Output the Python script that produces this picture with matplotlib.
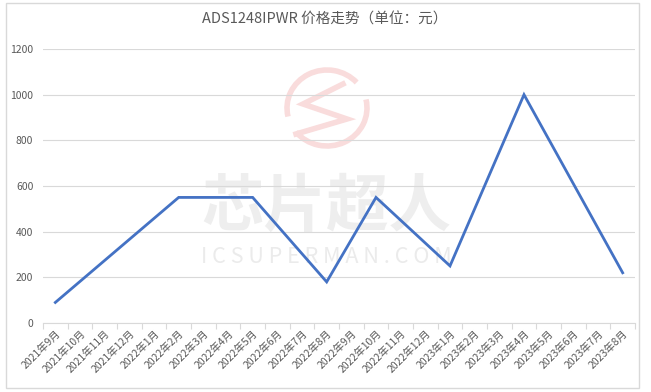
import matplotlib
matplotlib.use("Agg")
import matplotlib.pyplot as plt
import numpy as np
from matplotlib.patches import Arc
from matplotlib.lines import Line2D
from matplotlib.ticker import FixedLocator, NullFormatter

plt.rcParams['font.family'] = ['Noto Sans CJK SC', 'DejaVu Sans']

months = ["2021年9月", "2021年10月", "2021年11月", "2021年12月",
          "2022年1月", "2022年2月", "2022年3月", "2022年4月", "2022年5月",
          "2022年6月", "2022年7月", "2022年8月", "2022年9月", "2022年10月",
          "2022年11月", "2022年12月", "2023年1月", "2023年2月", "2023年3月",
          "2023年4月", "2023年5月", "2023年6月", "2023年7月", "2023年8月"]
prices = [90, None, None, None, None, 550, None, None, 550, None, None, 180,
          None, 550, None, None, 250, None, None, 1000, None, None, None, 220]
title = "ADS1248IPWR 价格走势（单位：元）"

W, H = 651, 392
fig = plt.figure(figsize=(W / 100, H / 100), dpi=100)
fig.patch.set_facecolor("white")

def fx(px):
    return px / W

def fy(py):
    return 1 - py / H

# outer frame
frame = plt.Rectangle((fx(6), fy(388)), (639 - 6) / W, (388 - 3) / H,
                      transform=fig.transFigure, fill=False,
                      edgecolor="#d9d9d9", linewidth=1.0, zorder=-1)
fig.add_artist(frame)

# watermark (behind the axes)
wm_col = "#f9dcdc"
for t1, t2 in [(55, 200), (232, 380)]:
    arc = Arc((fx(327), fy(108)), 80 / W, 76 / H, theta1=t1, theta2=t2,
              transform=fig.transFigure, edgecolor=wm_col, linewidth=4.0, zorder=-1)
    fig.add_artist(arc)
zig = Line2D([fx(343), fx(303), fx(347), fx(296)],
             [fy(84), fy(104), fy(119), fy(134)],
             transform=fig.transFigure, color=wm_col, linewidth=4.0,
             solid_joinstyle="miter", zorder=-1)
fig.add_artist(zig)
fig.text(fx(326), fy(207), "芯片超人", ha="center", va="center", fontsize=45,
         fontweight="bold", color="#eeeeee", zorder=-1)
fig.text(fx(326), fy(257), "I C S U P E R M A N . C O M", ha="center", va="center",
         fontsize=15.5, color="#ebebeb", zorder=-1)

ax = fig.add_axes([fx(43), fy(323), (635 - 43) / W, (323 - 49) / H])
ax.set_facecolor("none")
ax.set_zorder(2)

x = np.arange(len(months))
xs = [i for i, v in enumerate(prices) if v is not None]
ys = [v for v in prices if v is not None]
ax.plot(xs, ys, color="#4472C4", linewidth=2.0, solid_joinstyle="miter", zorder=3)

ax.set_xlim(-0.5, len(months) - 0.5)
ax.set_ylim(0, 1200)
ax.set_yticks(np.arange(0, 1201, 200))
ax.set_yticklabels([str(v) for v in range(0, 1201, 200)], fontsize=7.5, color="#595959")
ax.grid(axis="y", color="#d9d9d9", linewidth=0.8)
ax.set_axisbelow(True)

ax.set_xticks(x)
ax.set_xticklabels(months, rotation=45, ha="right", rotation_mode="anchor",
                   fontsize=7.5, color="#595959")
ax.xaxis.set_minor_locator(FixedLocator(np.arange(-0.5, len(months), 1.0)))
ax.xaxis.set_minor_formatter(NullFormatter())
ax.tick_params(axis="x", which="major", length=0, pad=4)
ax.tick_params(axis="x", which="minor", length=4, color="#d9d9d9", width=0.8)
ax.tick_params(axis="y", length=0, pad=7)

for s in ["top", "right", "left"]:
    ax.spines[s].set_visible(False)
ax.spines["bottom"].set_color("#d9d9d9")
ax.spines["bottom"].set_linewidth(0.8)

fig.text(fx(325), fy(20), title, ha="center", va="center",
         fontsize=10.5, color="#595959")

fig.savefig("out.png", dpi=100, facecolor="white")
